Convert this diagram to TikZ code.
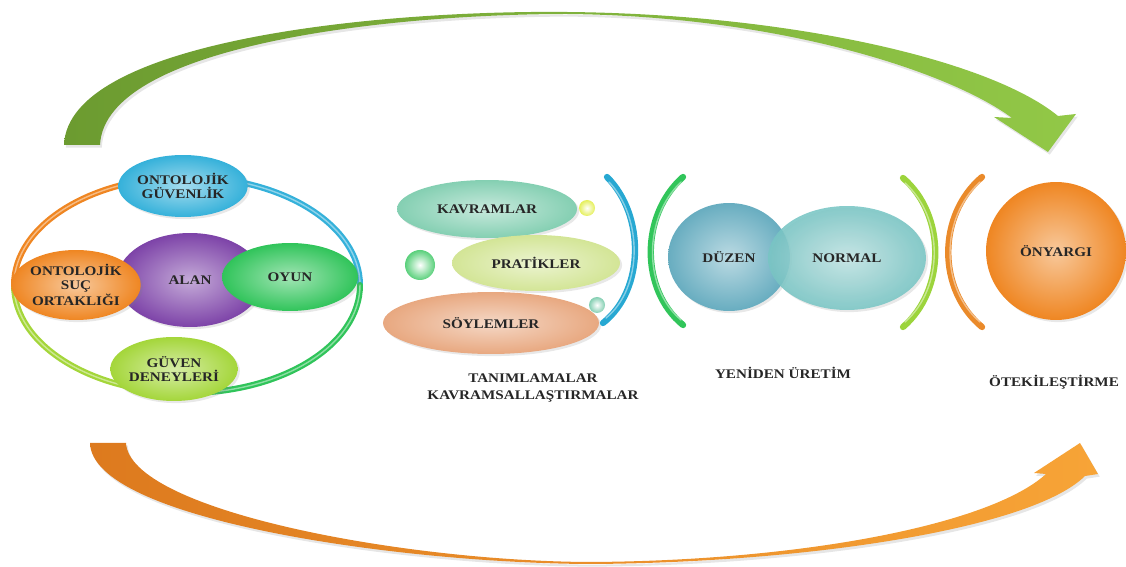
\documentclass[tikz,border=0pt]{standalone}
\usepackage{fontspec}
\setmainfont{Liberation Serif}[FakeStretch=1.15]
\usepackage{tikz}
\usetikzlibrary{arrows.meta, shapes.geometric, shadows}
\definecolor{gDark}{HTML}{6C9B30}
\definecolor{gLight}{HTML}{92C847}
\definecolor{oDark}{HTML}{DD7A1E}
\definecolor{oLight}{HTML}{F7A437}
\definecolor{cCyan}{HTML}{35B1DA}
\definecolor{cAlan}{HTML}{7D43A8}
\definecolor{cOyun}{HTML}{30C45A}
\definecolor{cSuc}{HTML}{EF8622}
\definecolor{cLime}{HTML}{A4D63A}
\definecolor{cMint}{HTML}{84CFB2}
\definecolor{cPale}{HTML}{D3E596}
\definecolor{cPeach}{HTML}{E8A880}
\definecolor{cDuzen}{HTML}{68ADC0}
\definecolor{cNormal}{HTML}{78C5C4}
\definecolor{cBrBlue}{HTML}{27A8D2}
\definecolor{cBrGreen}{HTML}{31C55A}
\definecolor{cBrLime}{HTML}{9CD43C}
\definecolor{cBrOrange}{HTML}{EA8A2A}
\definecolor{tInk}{HTML}{262626}

\begin{document}
\begin{tikzpicture}[x=0.02cm, y=-0.02cm,
  bubble/.style={ellipse, inner sep=0pt, align=center, text=tInk,
    font=\fontsize{7.5}{7.6}\selectfont\bfseries,
    drop shadow={opacity=0.18, shadow xshift=1.2pt, shadow yshift=-1.2pt}},
  glossy/.style={bubble, inner color=#1!45!white, outer color=#1},
  pearl/.style={inner color=white, outer color=#1},
  ring/.style={line width=3.4pt, line cap=round},
  brack/.style={line width=3.6pt, line cap=round},
  shine/.style={line width=0.8pt, white, opacity=0.45, line cap=round},
  caption/.style={font=\fontsize{7.5}{9.5}\selectfont\bfseries, text=tInk, align=center}]
  \useasboundingbox (0,0) rectangle (1126,567);

  % the two big arrows
  \shade[left color=gDark, right color=gLight,
    drop shadow={opacity=0.2, shadow xshift=1pt, shadow yshift=-1.5pt}]
    (64,145) .. controls (68,40) and (380,10) .. (567,12)
    .. controls (790,14) and (990,60) .. (1058,116) -- (1076,114) -- (1048,152)
    -- (994,117) -- (1012,118) .. controls (950,72) and (780,16) .. (567,14)
    .. controls (390,14) and (105,45) .. (100,145) -- cycle;
  \shade[left color=oDark, right color=oLight,
    drop shadow={opacity=0.2, shadow xshift=1pt, shadow yshift=-1.5pt}]
    (90,443) .. controls (92,520) and (400,563) .. (589,564)
    .. controls (800,563) and (1030,530) .. (1085,476) -- (1098,474) -- (1080,443)
    -- (1034,473) -- (1046,474) .. controls (990,525) and (800,561) .. (589,562)
    .. controls (400,561) and (130,510) .. (126,443) -- cycle;

  % left cluster
  \foreach \a/\b/\c in {180/270/cSuc, 270/360/cCyan, 0/90/cOyun, 90/180/cLime} {
    \draw[ring, \c] (187,285) ++(\a:173 and 108) arc[start angle=\a, end angle=\b, x radius=173, y radius=108];
    \draw[shine] (187,285) ++(\a:173 and 108) arc[start angle=\a, end angle=\b, x radius=173, y radius=108];
  }
  \node[glossy=cAlan, minimum width=2.92cm, minimum height=1.88cm] (alan) at (190,280) {ALAN};
  \node[glossy=cCyan, minimum width=2.4cm, minimum height=1.24cm] (guvenlik) at (183,186) {ONTOLOJİK\\GÜVENLİK};
  \node[glossy=cOyun, minimum width=2.72cm, minimum height=1.36cm] (oyun) at (290,277) {OYUN};
  \node[glossy=cSuc, minimum width=2.44cm, minimum height=1.4cm] (suc) at (76,285) {ONTOLOJİK\\SUÇ\\ORTAKLIĞI};
  \node[glossy=cLime, minimum width=2.36cm, minimum height=1.28cm] (deney) at (174,369) {GÜVEN\\DENEYLERİ};

  % middle group
  \shade[pearl=cPale!60!yellow] (587,208) circle (8);
  \shade[pearl=cOyun!80!white] (420,265) circle (15);
  \shade[pearl=cMint] (597,305) circle (8);
  \node[glossy=cMint, minimum width=3.6cm, minimum height=1.16cm] (kavram) at (487,209) {KAVRAMLAR};
  \node[glossy=cPale, minimum width=3.36cm, minimum height=1.12cm] (pratik) at (536,263) {PRATİKLER};
  \node[glossy=cPeach, minimum width=4.32cm, minimum height=1.24cm] (soylem) at (491,323) {SÖYLEMLER};
  \node[caption] (tanim) at (533,388) {TANIMLAMALAR\\KAVRAMSALLAŞTIRMALAR};

  \draw[brack, cBrBlue] (607,177) .. controls (645,215) and (645,290) .. (603,323);
  \draw[shine] (609,182) .. controls (643,218) and (643,288) .. (606,318);
  \draw[brack, cBrGreen] (683,177) .. controls (640,215) and (640,290) .. (683,325);
  \draw[shine] (681,182) .. controls (643,218) and (643,288) .. (681,320);

  \node[glossy=cDuzen, minimum width=2.44cm, minimum height=2.16cm] (duzen) at (729,257) {DÜZEN};
  \node[glossy=cNormal, fill opacity=0.88, text opacity=1, minimum width=3.16cm, minimum height=2.08cm] (normal) at (847,258) {NORMAL};
  \node[caption] (uretim) at (783,373) {YENİDEN ÜRETİM};

  \draw[brack, cBrLime] (903,178) .. controls (946,215) and (946,290) .. (903,327);
  \draw[shine] (905,183) .. controls (944,218) and (944,288) .. (905,322);
  \draw[brack, cBrOrange] (982,177) .. controls (937,215) and (937,290) .. (982,327);
  \draw[shine] (980,182) .. controls (940,218) and (940,288) .. (980,322);

  \node[glossy=cSuc, minimum width=2.8cm, minimum height=2.76cm] (onyargi) at (1056,251) {ÖNYARGI};
  \node[caption, anchor=west] (oteki) at (983,382) {ÖTEKİLEŞTİRME};
\end{tikzpicture}
\end{document}
